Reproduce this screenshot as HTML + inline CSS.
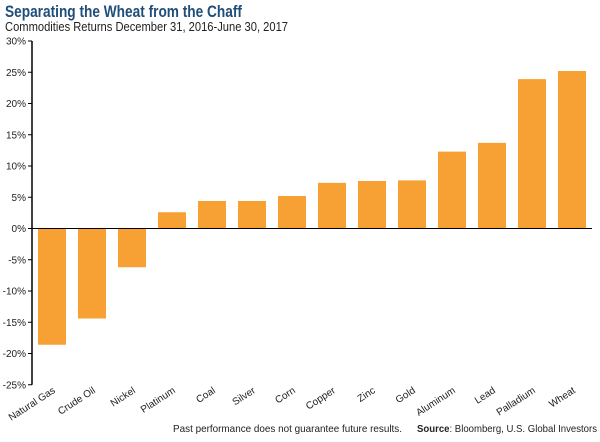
<!DOCTYPE html>
<html><head><meta charset="utf-8"><style>
body{margin:0;background:#fff;width:600px;height:437px;overflow:hidden;font-family:"Liberation Sans",sans-serif}
</style></head><body>
<svg width="600" height="437">
<text x="5" y="17" font-size="16.5" font-weight="bold" fill="#1f4e79" textLength="237" lengthAdjust="spacingAndGlyphs">Separating the Wheat from the Chaff</text>
<text x="5" y="31" font-size="12.5" fill="#222" textLength="283" lengthAdjust="spacingAndGlyphs">Commodities Returns December 31, 2016-June 30, 2017</text>
<g id="plot"></g>
<text x="173" y="432" font-size="10.5" fill="#222" textLength="229" lengthAdjust="spacingAndGlyphs">Past performance does not guarantee future results.</text>
<text x="417" y="432" font-size="10.5" fill="#222" textLength="180" lengthAdjust="spacingAndGlyphs"><tspan font-weight="bold">Source</tspan>: Bloomberg, U.S. Global Investors</text>
</svg>
<script>
const categories=["Natural Gas","Crude Oil","Nickel","Platinum","Coal","Silver","Corn","Copper","Zinc","Gold","Aluminum","Lead","Palladium","Wheat"];
const values=[-18.6,-14.4,-6.2,2.6,4.4,4.4,5.2,7.3,7.6,7.7,12.3,13.7,23.9,25.2];
const ticks=[30,25,20,15,10,5,0,-5,-10,-15,-20,-25];
const NS="http://www.w3.org/2000/svg";
const g=document.getElementById('plot');
const x0=32,band=40,yTop=41,pxPer=6.25;
const y=v=>yTop+(30-v)*pxPer;
const xc=i=>x0+band*i+band/2;
function mk(t,a){const e=document.createElementNS(NS,t);for(const k in a)e.setAttribute(k,a[k]);g.appendChild(e);return e;}
values.forEach((v,i)=>{
 const r=mk('rect',{x:xc(i)-14,y:Math.min(y(v),y(0)),width:28,height:Math.abs(y(v)-y(0)),fill:'#f7a033'});
 
 
 const t=mk('text',{x:xc(i)+4,y:392,'font-size':10,fill:'#222','text-anchor':'end',transform:`rotate(-33 ${xc(i)+4} 392)`});
 t.textContent=categories[i];
 
 
});
ticks.forEach(v=>{
 const l=mk('line',{x1:28,x2:32,y1:y(v),y2:y(v),stroke:'#000','stroke-width':1});
 
 
 const t=mk('text',{x:26,y:y(v)+3.5,'font-size':10,fill:'#222','text-anchor':'end'});
 t.textContent=v+'%';
 
 
});
const ax=mk('line',{x1:32,x2:32,y1:y(30),y2:y(-25),stroke:'#000','stroke-width':1.5});


const z=mk('line',{x1:32,x2:592,y1:y(0),y2:y(0),stroke:'#000','stroke-width':1});


</script>
</body></html>
